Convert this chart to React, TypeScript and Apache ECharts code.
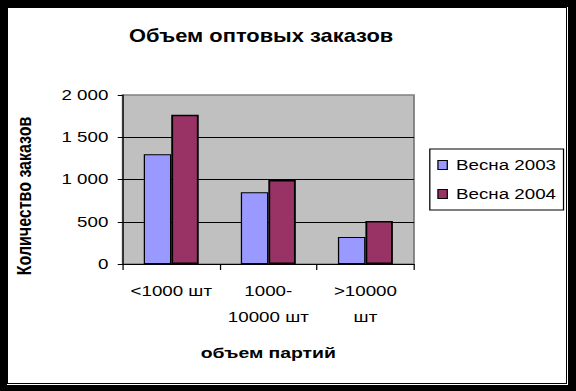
import React, { useEffect, useRef } from "react";
import * as echarts from "echarts";

const categories = ["<1000 шт", "1000-\n10000 шт", ">10000\nшт"];
const seriesNames = ["Весна 2003", "Весна 2004"];
const spring2003 = [1300, 850, 320];
const spring2004 = [1765, 995, 510];
const titleText = "Объем оптовых заказов";
const xTitle = "объем партий";
const yTitle = "Количество заказов";
const yMin = 0;
const yMax = 2000;
const yStep = 500;

const CHART_W = 461;
const SCALE = 576 / CHART_W;
const FONT = "'Liberation Sans', Arial, sans-serif";

function fmt(v: number): string {
  return String(v).replace(/\B(?=(\d{3})+(?!\d))/g, " ");
}

export default function App() {
  const ref = useRef<HTMLDivElement>(null);
  useEffect(() => {
    if (!ref.current) return;
    const chart = echarts.init(ref.current, null, { renderer: "svg" });
    chart.setOption({
      animation: false,
      title: {
        text: titleText,
        left: 209,
        top: 27,
        padding: 0,
        textAlign: "center",
        textStyle: { fontFamily: FONT, fontSize: 17.5, fontWeight: "bold", color: "#000" },
      },
      legend: {
        orient: "vertical",
        left: 344,
        top: 149,
        padding: [8, 6, 8, 6],
        itemGap: 13,
        itemWidth: 7.5,
        itemHeight: 9,
        icon: "rect",
        borderColor: "#000",
        borderWidth: 1,
        backgroundColor: "#fff",
        itemStyle: { borderColor: "#000", borderWidth: 1 },
        textStyle: { fontFamily: FONT, fontSize: 15, color: "#000", lineHeight: 16, padding: [0, 0, 0, 2] },
        data: seriesNames,
      },
      grid: {
        left: 98.2,
        right: CHART_W - 331.3,
        top: 95,
        bottom: 391 - 264,
        show: true,
        backgroundColor: "#C0C0C0",
        borderColor: "#808080",
        borderWidth: 1.5,
      },
      xAxis: {
        type: "category",
        data: categories,
        name: xTitle,
        nameLocation: "middle",
        nameGap: 81,
        nameTextStyle: { fontFamily: FONT, fontSize: 15.5, fontWeight: "bold", color: "#000" },
        axisLine: { show: true, lineStyle: { color: "#000", width: 1 } },
        axisTick: { show: true, length: 6, lineStyle: { color: "#000" } },
        axisLabel: {
          fontFamily: FONT,
          fontSize: 15,
          color: "#000",
          lineHeight: 25.5,
          margin: 14.5,
          interval: 0,
        },
        splitLine: { show: false },
      },
      yAxis: {
        type: "value",
        min: yMin,
        max: yMax,
        interval: yStep,
        axisLine: { show: true, lineStyle: { color: "#000", width: 1 } },
        axisTick: { show: true, length: 4, lineStyle: { color: "#000" } },
        axisLabel: {
          fontFamily: FONT,
          fontSize: 15,
          color: "#000",
          margin: 11.5,
          formatter: (v: number) => fmt(v),
        },
        splitLine: { show: true, showMaxLine: false, showMinLine: false, lineStyle: { color: "#000", width: 1 } },
      },
      graphic: [
        {
          type: "text",
          x: 19.2,
          y: 196,
          rotation: Math.PI / 2,
          style: {
            text: yTitle,
            font: `bold 16px ${FONT}`,
            fill: "#000",
            align: "center",
            verticalAlign: "middle",
          },
        },
      ],
      series: [
        {
          name: seriesNames[0],
          type: "bar",
          data: spring2003,
          barWidth: 22,
          barGap: "0%",
          itemStyle: { color: "#9999FF", borderColor: "#000", borderWidth: 1 },
        },
        {
          name: seriesNames[1],
          type: "bar",
          data: spring2004,
          barWidth: 22,
          barGap: "0%",
          itemStyle: { color: "#993366", borderColor: "#000", borderWidth: 1.5 },
        },
      ],
    });
    return () => chart.dispose();
  }, []);

  return (
    <div style={{ position: "fixed", left: 0, top: 0, width: 576, height: 391, background: "#000", overflow: "hidden" }}>
      <div style={{ position: "absolute", left: 8, top: 8, width: 558, height: 375, background: "#fff" }} />
      <div style={{ position: "absolute", left: 567, top: 7, width: 1, height: 378, background: "#fff" }} />
      <div style={{ position: "absolute", left: 7, top: 384, width: 561, height: 1, background: "#fff" }} />
      <div
        ref={ref}
        style={{
          position: "absolute",
          left: 0,
          top: 0,
          width: CHART_W,
          height: 391,
          transform: `scaleX(${SCALE})`,
          transformOrigin: "0 0",
        }}
      />
    </div>
  );
}
